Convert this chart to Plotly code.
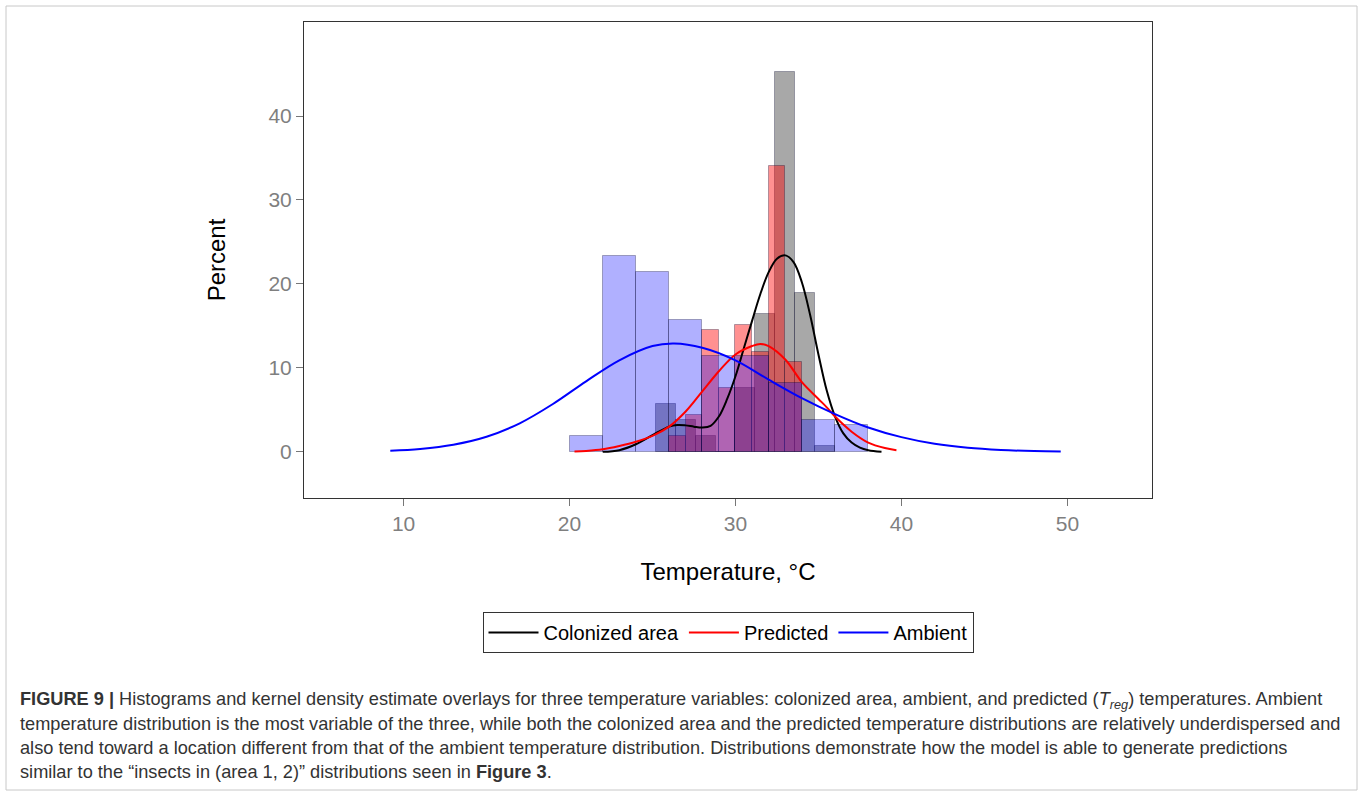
import plotly.graph_objects as go

# ---------------- data ----------------
colonized_bin_left = [25.2, 26.4, 27.6, 28.8, 30.0, 31.2, 32.4, 33.6, 34.8]
colonized_bin_width = 1.2
colonized_pct = [5.7, 3.8, 1.9, 0.0, 7.6, 16.4, 45.3, 18.9, 0.7]

predicted_bin_left = [26, 27, 28, 29, 30, 31, 32, 33]
predicted_bin_width = 1.0
predicted_pct = [1.9, 4.4, 14.5, 7.6, 15.1, 11.9, 34.0, 10.75]

ambient_bin_left = [20, 22, 24, 26, 28, 30, 32, 34, 36]
ambient_bin_width = 2.0
ambient_pct = [1.9, 23.3, 21.4, 15.75, 11.4, 11.4, 8.25, 3.8, 3.2]

colonized_kde_x = [22.0, 23.0, 24.0, 25.0, 26.0, 26.5, 27.0, 27.5, 28.0, 28.5, 29.0, 29.5,
                   30.0, 30.5, 31.0, 31.5, 32.0, 32.5, 33.0, 33.5, 34.0, 34.5, 35.0, 35.5,
                   36.0, 36.5, 37.0, 37.5, 38.0, 38.8]
colonized_kde_y = [0.0, 0.2, 0.9, 2.0, 3.0, 3.2, 3.15, 3.0, 2.9, 3.1, 4.2, 6.3,
                   9.0, 12.3, 15.6, 18.8, 21.4, 23.0, 23.4, 22.6, 20.2, 16.3, 11.6, 7.3,
                   4.2, 2.2, 1.1, 0.5, 0.2, 0.02]

predicted_kde_x = [20.3, 21.0, 22.0, 23.0, 24.0, 25.0, 26.0, 27.0, 28.0, 29.0, 30.0, 31.0,
                   31.5, 32.0, 33.0, 34.0, 35.0, 35.5, 36.0, 37.0, 38.0, 39.0, 39.7]
predicted_kde_y = [0.03, 0.1, 0.3, 0.7, 1.2, 1.9, 3.0, 4.8, 7.2, 9.6, 11.6, 12.6,
                   12.85, 12.6, 11.0, 8.3, 6.3, 5.3, 4.2, 2.4, 1.1, 0.45, 0.2]

ambient_kde_x = [9.2, 11, 13, 15, 17, 19, 21, 23, 25, 26.3, 28, 30, 32, 34, 36, 38, 40,
                 42, 44, 46, 48, 49.6]
ambient_kde_y = [0.14, 0.35, 0.85, 1.8, 3.4, 5.7, 8.4, 10.9, 12.6, 12.9, 12.4, 10.9, 8.6,
                 6.4, 4.5, 2.9, 1.75, 0.96, 0.48, 0.22, 0.09, 0.04]

x_ticks = [10, 20, 30, 40, 50]
y_ticks = [0, 10, 20, 30, 40]

caption_lines = [
    "<b>FIGURE 9 |</b> Histograms and kernel density estimate overlays for three temperature variables: "
    "colonized area, ambient, and predicted (<i>T<sub>reg</sub></i>) temperatures. Ambient",
    "temperature distribution is the most variable of the three, while both the colonized area and the "
    "predicted temperature distributions are relatively underdispersed and",
    "also tend toward a location different from that of the ambient temperature distribution. "
    "Distributions demonstrate how the model is able to generate predictions",
    "similar to the \u201cinsects in (area 1, 2)\u201d distributions seen in <b>Figure 3</b>.",
]

# ---------------- figure ----------------
FONT = "Arial, Liberation Sans, Helvetica, sans-serif"
W, H = 1363, 796
L, R, T, B = 304, 211, 22, 298
PW, PH = W - L - R, H - T - B


def px_to_paper_x(px):
    return (px - L) / PW


def px_to_paper_y(py):
    return (H - B - py) / PH


fig = go.Figure()

hist_specs = [
    (colonized_bin_left, colonized_bin_width, colonized_pct, "rgba(0,0,0,0.34)"),
    (predicted_bin_left, predicted_bin_width, predicted_pct, "rgba(255,0,0,0.43)"),
    (ambient_bin_left, ambient_bin_width, ambient_pct, "rgba(0,0,255,0.31)"),
]
for left, w, pct, col in hist_specs:
    fig.add_trace(go.Bar(
        x=[v + w / 2 for v in left], y=pct, width=[w] * len(left),
        marker=dict(color=col, line=dict(color="rgba(0,0,40,0.3)", width=1)),
        showlegend=False, hoverinfo="skip",
    ))

line_specs = [
    (colonized_kde_x, colonized_kde_y, "#000000", "Colonized area"),
    (predicted_kde_x, predicted_kde_y, "#ff0000", "Predicted"),
    (ambient_kde_x, ambient_kde_y, "#0000ff", "Ambient"),
]
for xs, ys, col, name in line_specs:
    fig.add_trace(go.Scatter(
        x=xs, y=ys, mode="lines", name=name,
        line=dict(color=col, width=2, shape="spline", smoothing=1.0),
    ))

axis_common = dict(
    showgrid=False, zeroline=False, showline=True, mirror=True,
    linecolor="#333333", linewidth=1, ticks="outside", ticklen=7,
    tickcolor="#777777", tickwidth=1,
    tickfont=dict(family=FONT, size=21, color="#7f7f7f"),
)

fig.update_layout(
    width=W, height=H,
    margin=dict(l=L, r=R, t=T, b=B, pad=0),
    paper_bgcolor="white", plot_bgcolor="white",
    barmode="overlay", bargap=0,
    font=dict(family=FONT, color="#000000"),
    xaxis=dict(range=[4.0, 55.1], tickvals=x_ticks,
               title=dict(text="Temperature, \u00b0C", font=dict(size=24, color="#000"), standoff=28),
               **axis_common),
    yaxis=dict(range=[-5.5, 51.2], tickvals=y_ticks,
               title=dict(text="Percent", font=dict(size=24, color="#000"), standoff=36),
               **axis_common),
    legend=dict(
        orientation="h", x=px_to_paper_x(728), xanchor="center", y=px_to_paper_y(612), yanchor="top",
        bordercolor="#333333", borderwidth=1, bgcolor="white",
        font=dict(family=FONT, size=20, color="#000"),
        itemwidth=50, tracegroupgap=0,
    ),
)

# caption lines
caption_y = [700, 724, 748, 772]
for text, yc in zip(caption_lines, caption_y):
    fig.add_annotation(
        text=text, xref="paper", yref="paper",
        x=px_to_paper_x(18), y=px_to_paper_y(yc), xanchor="left", yanchor="middle",
        showarrow=False, align="left",
        font=dict(family=FONT, size=18.2, color="#333333"),
    )

# outer frame of the figure
fig.add_shape(type="rect", xref="paper", yref="paper",
              x0=px_to_paper_x(6), x1=px_to_paper_x(1357),
              y0=px_to_paper_y(790), y1=px_to_paper_y(6),
              line=dict(color="#c8c8c8", width=1), fillcolor="rgba(0,0,0,0)", layer="below")

fig.write_html("out.html")
